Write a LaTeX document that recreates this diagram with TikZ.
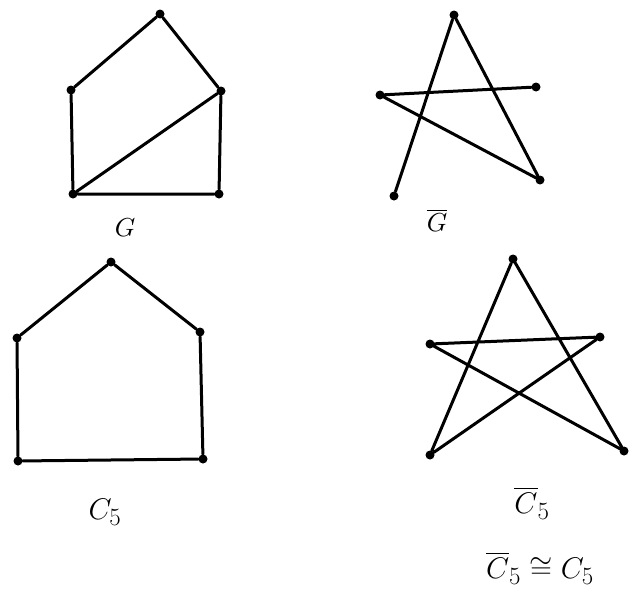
\documentclass[tikz,border=0pt]{standalone}
\usepackage{amssymb}
\usepackage{graphicx}
\begin{document}
\begin{tikzpicture}[x=1pt,y=-1pt,
  vtx/.style={circle,fill=black,inner sep=0pt,minimum size=9pt},
  edge/.style={line width=3pt,line cap=round},
  lab/.style={font=\Huge}]
\useasboundingbox (0,0) rectangle (632,597);
% G
\node[vtx] (a1) at (160,14) {};
\node[vtx] (a2) at (71,90) {};
\node[vtx] (a3) at (221,91) {};
\node[vtx] (a4) at (73,194) {};
\node[vtx] (a5) at (219,194) {};
\draw[edge] (a1)--(a2) (a1)--(a3) (a2)--(a4) (a3)--(a5) (a4)--(a5) (a4)--(a3);
\node (lg) at (125,228) {\scalebox{2.6}{$G$}};
% G bar
\node[vtx] (b1) at (454,15) {};
\node[vtx] (b2) at (380,95) {};
\node[vtx] (b3) at (536,87) {};
\node[vtx] (b4) at (540,180) {};
\node[vtx] (b5) at (394,196) {};
\draw[edge] (b1)--(b5) (b1)--(b4) (b2)--(b3) (b2)--(b4);
\node (lgb) at (437,220) {\scalebox{2.6}{$\overline{G}$}};
% C5
\node[vtx] (c1) at (111,262) {};
\node[vtx] (c2) at (17,338) {};
\node[vtx] (c3) at (200,332) {};
\node[vtx] (c4) at (18,461) {};
\node[vtx] (c5) at (203,459) {};
\draw[edge] (c1)--(c2)--(c4)--(c5)--(c3)--(c1);
\node[lab] (lc) at (105,512) {\scalebox{1.2}{$C_5$}};
% C5 bar
\node[vtx] (d1) at (513,259) {};
\node[vtx] (d2) at (430,344) {};
\node[vtx] (d3) at (600,337) {};
\node[vtx] (d4) at (430,455) {};
\node[vtx] (d5) at (624,451) {};
\draw[edge] (d1)--(d4) (d1)--(d5) (d2)--(d3) (d2)--(d5) (d3)--(d4);
\node[lab] (lcb) at (532,503) {\scalebox{1.2}{$\overline{C}_5$}};
\node[lab] (iso) at (540,568) {\scalebox{1.2}{$\overline{C}_5 \cong C_5$}};
\end{tikzpicture}
\end{document}
